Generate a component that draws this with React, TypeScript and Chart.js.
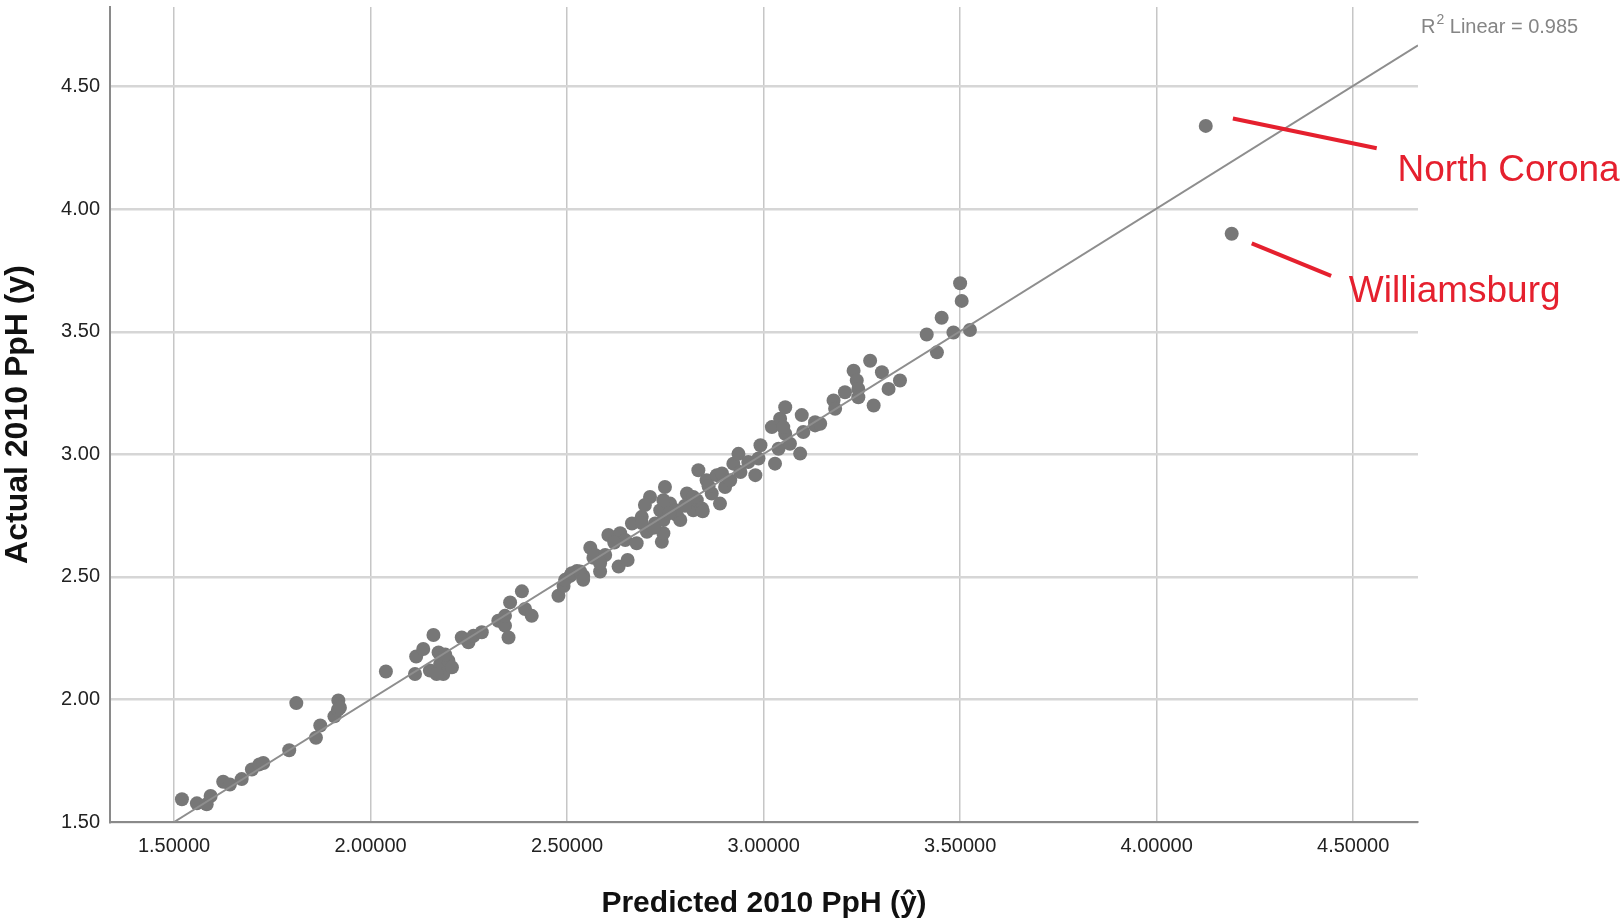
import React, { useEffect, useRef } from 'react';
import { Chart, registerables } from 'chart.js';

Chart.register(...registerables);

// ---- data ----
const predicted = [
  1.520, 1.558, 1.583, 1.593, 1.625, 1.642, 1.672, 1.698, 1.717, 1.727,
  1.793, 1.811, 1.861, 1.872, 1.908, 1.917, 1.918, 1.922, 2.039, 2.113,
  2.116, 2.134, 2.160, 2.151, 2.173, 2.177, 2.185, 2.198, 2.207, 2.168,
  2.190, 2.232, 2.249, 2.262, 2.283, 2.325, 2.342, 2.351, 2.355, 2.385,
  2.393, 2.410, 2.342, 2.478, 2.491, 2.508, 2.525, 2.541, 2.559, 2.567,
  2.495, 2.512, 2.533, 2.541, 2.571, 2.584, 2.597, 2.584, 2.605, 2.631,
  2.654, 2.635, 2.648, 2.665, 2.677, 2.690, 2.703, 2.711, 2.724, 2.741,
  2.749, 2.745, 2.737, 2.762, 2.779, 2.788, 2.805, 2.821, 2.834, 2.830,
  2.698, 2.745, 2.745, 2.775, 2.821, 2.843, 2.855, 2.868, 2.881, 2.889,
  2.894, 2.902, 2.915, 2.923, 2.936, 2.941, 2.979, 2.992, 2.987, 3.021,
  3.029, 3.038, 3.042, 3.055, 3.055, 3.067, 3.097, 3.093, 3.101, 3.131,
  2.961, 3.050, 3.131, 3.144, 3.178, 3.182, 3.207, 3.229, 3.237, 3.241,
  3.241, 3.271, 3.280, 3.301, 3.318, 3.347, 3.415, 3.453, 3.441, 3.483,
  3.500, 3.504, 3.525, 2.845, 2.620, 2.690, 2.760, 2.800, 2.860, 2.720,
  4.125, 4.191,
];
const actual = [
  1.593, 1.576, 1.572, 1.606, 1.664, 1.653, 1.675, 1.714, 1.735, 1.741,
  1.793, 1.985, 1.844, 1.894, 1.931, 1.958, 1.996, 1.966, 2.114, 2.104,
  2.175, 2.206, 2.263, 2.118, 2.192, 2.145, 2.104, 2.158, 2.131, 2.104,
  2.183, 2.253, 2.233, 2.260, 2.274, 2.321, 2.301, 2.253, 2.396, 2.441,
  2.369, 2.341, 2.341, 2.423, 2.463, 2.504, 2.524, 2.504, 2.619, 2.578,
  2.488, 2.515, 2.522, 2.488, 2.589, 2.522, 2.589, 2.556, 2.671, 2.542,
  2.569, 2.678, 2.650, 2.718, 2.637, 2.745, 2.684, 2.826, 2.718, 2.643,
  2.867, 2.678, 2.772, 2.799, 2.752, 2.732, 2.840, 2.772, 2.935, 2.813,
  2.793, 2.813, 2.732, 2.772, 2.826, 2.779, 2.894, 2.840, 2.915, 2.799,
  2.922, 2.867, 2.894, 2.962, 3.002, 2.928, 2.915, 3.037, 2.983, 3.111,
  2.962, 3.023, 3.145, 3.192, 3.084, 3.043, 3.160, 3.003, 3.091, 3.131,
  2.969, 3.111, 3.118, 3.125, 3.220, 3.186, 3.253, 3.341, 3.301, 3.267,
  3.233, 3.382, 3.199, 3.335, 3.267, 3.301, 3.489, 3.557, 3.416, 3.497,
  3.698, 3.626, 3.507, 2.768, 2.640, 2.720, 2.760, 2.790, 2.870, 2.700,
  4.340, 3.900,
];

const fitLineX = [1.5, 4.665];
const fitLineY = [1.5, 4.669];

const xTicks = [1.5, 2.0, 2.5, 3.0, 3.5, 4.0, 4.5];
const xTickLabels = ['1.50000', '2.00000', '2.50000', '3.00000', '3.50000', '4.00000', '4.50000'];
const yTicks = [1.5, 2.0, 2.5, 3.0, 3.5, 4.0, 4.5];
const yTickLabels = ['1.50', '2.00', '2.50', '3.00', '3.50', '4.00', '4.50'];

const xTitle = 'Predicted 2010 PpH (ŷ)';
const yTitle = 'Actual 2010 PpH (y)';
const rSquaredLabel = ['R', '2', ' Linear = 0.985'];

const calloutNames = ['North Corona', 'Williamsburg'];
const calloutLineFromX = [4.194, 4.242];
const calloutLineFromY = [4.370, 3.861];
const calloutLineToX = [4.560, 4.444];
const calloutLineToY = [4.249, 3.728];
const calloutTextX = [4.613, 4.489];
const calloutTextY = [4.117, 3.622];

const FONT = '"Liberation Sans", Arial, Helvetica, sans-serif';

const overlayPlugin = {
  id: 'overlay',
  afterDatasetsDraw(chart: any) {
    const { ctx, chartArea, scales } = chart;
    const xs = scales.x;
    const ys = scales.y;
    ctx.save();
    // R squared label
    ctx.fillStyle = '#858585';
    ctx.textBaseline = 'alphabetic';
    ctx.textAlign = 'left';
    let tx = chartArea.right + 3;
    const ty = chartArea.top + 26;
    ctx.font = `20px ${FONT}`;
    ctx.fillText(rSquaredLabel[0], tx, ty);
    tx += ctx.measureText(rSquaredLabel[0]).width + 1;
    ctx.font = `14px ${FONT}`;
    ctx.fillText(rSquaredLabel[1], tx, ty - 9);
    tx += ctx.measureText(rSquaredLabel[1]).width;
    ctx.font = `20px ${FONT}`;
    ctx.fillText(rSquaredLabel[2], tx, ty);

    // red callouts
    ctx.strokeStyle = '#e5202e';
    ctx.fillStyle = '#e5202e';
    ctx.lineWidth = 4;
    ctx.font = `37px ${FONT}`;
    for (let i = 0; i < calloutNames.length; i++) {
      ctx.beginPath();
      ctx.moveTo(xs.getPixelForValue(calloutLineFromX[i]), ys.getPixelForValue(calloutLineFromY[i]));
      ctx.lineTo(xs.getPixelForValue(calloutLineToX[i]), ys.getPixelForValue(calloutLineToY[i]));
      ctx.stroke();
      ctx.fillText(calloutNames[i], xs.getPixelForValue(calloutTextX[i]), ys.getPixelForValue(calloutTextY[i]));
    }
    ctx.restore();
  },
};

export default function App() {
  const canvasRef = useRef<HTMLCanvasElement | null>(null);

  useEffect(() => {
    const canvas = canvasRef.current;
    if (!canvas) return;
    const points = predicted.map((x, i) => ({ x, y: actual[i] }));
    const fit = fitLineX.map((x, i) => ({ x, y: fitLineY[i] }));
    const chart = new Chart(canvas, {
      type: 'scatter',
      data: {
        datasets: [
          {
            type: 'line',
            data: fit,
            borderColor: '#8e8e8e',
            borderWidth: 2,
            pointRadius: 0,
            fill: false,
            order: 0,
          } as any,
          {
            type: 'scatter',
            data: points,
            backgroundColor: '#777777',
            borderColor: '#777777',
            borderWidth: 0,
            pointRadius: 7,
            order: 1,
          } as any,
        ],
      },
      options: {
        animation: false,
        responsive: false,
        maintainAspectRatio: false,
        layout: { padding: { top: 4, right: 205, left: 0, bottom: 0 } },
        plugins: { legend: { display: false }, tooltip: { enabled: false } },
        scales: {
          x: {
            type: 'linear',
            min: 1.337,
            max: 4.665,
            afterBuildTicks: (s: any) => {
              s.ticks = xTicks.map((v) => ({ value: v }));
            },
            afterFit: (s: any) => {
              s.height = 101;
              s.paddingLeft = 0;
              s.paddingRight = 0;
            },
            grid: { color: '#c6c6c6', lineWidth: 1.5, drawTicks: false },
            border: { color: '#8a8a8a', width: 2 },
            ticks: {
              padding: 12,
              color: '#222222',
              font: { family: FONT, size: 20 },
              maxRotation: 0,
              autoSkip: false,
              callback: (_v: any, i: number) => xTickLabels[i],
            },
            title: {
              display: true,
              text: xTitle,
              color: '#111111',
              font: { family: FONT, size: 30, weight: 'bold' },
              padding: { top: 0, bottom: 1 },
            },
          },
          y: {
            type: 'linear',
            min: 1.5,
            max: 4.825,
            afterBuildTicks: (s: any) => {
              s.ticks = yTicks.map((v) => ({ value: v }));
            },
            afterFit: (s: any) => {
              s.width = 110;
              s.paddingTop = 0;
              s.paddingBottom = 0;
            },
            grid: { color: '#d6d6d6', lineWidth: 2.5, drawTicks: false },
            border: { color: '#8a8a8a', width: 2 },
            ticks: {
              padding: 10,
              color: '#222222',
              font: { family: FONT, size: 20 },
              autoSkip: false,
              callback: (_v: any, i: number) => yTickLabels[i],
            },
            title: {
              display: true,
              text: yTitle,
              color: '#111111',
              font: { family: FONT, size: 32, weight: 'bold' },
              padding: { top: -1, bottom: 0 },
            },
          },
        },
      },
      plugins: [overlayPlugin],
    } as any);
    return () => chart.destroy();
  }, []);

  return (
    <div style={{ position: 'absolute', left: 0, top: 0, width: 1623, height: 923, background: '#ffffff' }}>
      <canvas ref={canvasRef} width={1623} height={923} style={{ display: 'block' }} />
    </div>
  );
}
